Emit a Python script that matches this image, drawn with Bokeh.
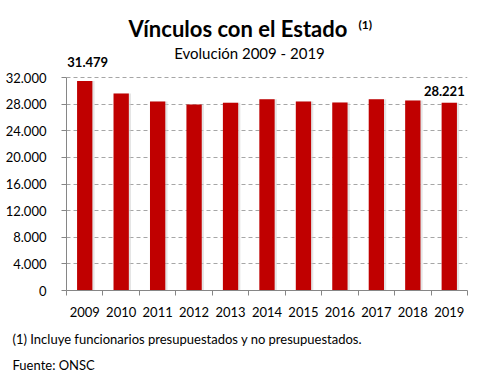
from bokeh.plotting import figure
from bokeh.layouts import column
from bokeh.models import Range1d, FixedTicker, Label, ColumnDataSource
from bokeh.embed import file_html
from bokeh.resources import INLINE

years = ["2009", "2010", "2011", "2012", "2013", "2014", "2015", "2016", "2017", "2018", "2019"]
vinculos = [31479, 29600, 28400, 27950, 28200, 28750, 28400, 28250, 28750, 28550, 28221]
y_ticks = [0, 4000, 8000, 12000, 16000, 20000, 24000, 28000, 32000]
y_tick_labels = ["0", "4.000", "8.000", "12.000", "16.000", "20.000", "24.000", "28.000", "32.000"]
title_text = "Vínculos con el Estado"
title_sup = "(1)"
subtitle_text = "Evolución 2009 - 2019"
footnote_text = "(1) Incluye funcionarios presupuestados y no presupuestados."
source_text = "Fuente: ONSC"
labelled_years = ["2009", "2019"]
labelled_texts = ["31.479", "28.221"]

FONT = "Lato"
W = 477
idx = list(range(len(years)))
y_max = y_ticks[-1]

# layout geometry (pixels)
LEFT, RIGHT = 66, 10
PLOT_H = 213          # pixels between 0 and y_max
FRAME_H = 290         # frame spans from top of canvas down to the x axis
BOTTOM = 35
y_top = y_max * FRAME_H / PLOT_H

p = figure(width=W, height=FRAME_H + BOTTOM, output_backend="svg", toolbar_location=None,
           x_range=Range1d(-0.5, len(years) - 0.5), y_range=Range1d(0, y_top),
           min_border_left=LEFT, min_border_right=RIGHT, min_border_top=0, min_border_bottom=BOTTOM)
p.frame_align = False
p.outline_line_color = None
p.background_fill_color = "white"
p.border_fill_color = "white"

src = ColumnDataSource(dict(x=idx, top=vinculos, xs=[i + 0.035 for i in idx]))
p.vbar(x="xs", top="top", width=0.47, source=src, fill_color="#d0d0d0", fill_alpha=0.55, line_color=None)
p.vbar(x="x", top="top", width=0.42, source=src, fill_color="#C00000", line_color=None)

# axes
p.xaxis.ticker = FixedTicker(ticks=idx, minor_ticks=[i - 0.5 for i in idx] + [len(years) - 0.5])
p.xaxis.major_label_overrides = {i: y for i, y in zip(idx, years)}
p.xaxis.major_tick_line_color = None
p.xaxis.major_tick_out = 0
p.xaxis.major_tick_in = 0
p.xaxis.minor_tick_out = 5
p.xaxis.minor_tick_in = 0
p.xaxis.minor_tick_line_color = "#868686"
p.xaxis.axis_line_color = "#868686"
p.xaxis.major_label_standoff = 11
p.xaxis.major_label_text_font = FONT
p.xaxis.major_label_text_font_size = "13px"
p.xaxis.major_label_text_color = "#000000"

p.yaxis.ticker = FixedTicker(ticks=y_ticks)
p.yaxis.bounds = (0, y_max)
p.yaxis.major_label_overrides = {t: l for t, l in zip(y_ticks, y_tick_labels)}
p.yaxis.minor_tick_line_color = None
p.yaxis.major_tick_out = 5
p.yaxis.major_tick_in = 0
p.yaxis.major_tick_line_color = "#868686"
p.yaxis.axis_line_color = "#868686"
p.yaxis.major_label_standoff = 15
p.yaxis.major_label_text_font = FONT
p.yaxis.major_label_text_font_size = "13px"
p.yaxis.major_label_text_color = "#000000"

p.xgrid.grid_line_color = None
p.ygrid.grid_line_color = "#a6a6a6"
p.ygrid.grid_line_dash = "4 3"
p.ygrid.grid_line_width = 1

# value labels
offsets = [(3, 19), (-5, 12)]
for y, txt, (dx, dy) in zip(labelled_years, labelled_texts, offsets):
    i = years.index(y)
    p.add_layout(Label(x=i, y=vinculos[i], text=txt, x_offset=dx, y_offset=dy,
                       text_align="center", text_baseline="middle",
                       text_font=FONT, text_font_style="bold", text_font_size="13px",
                       text_color="#000000"))

def add_text(fig, x, y, txt, size, style="normal", align="left"):
    fig.add_layout(Label(x=x, y=y, x_units="screen", y_units="screen", text=txt,
                         text_align=align, text_baseline="middle", text_font=FONT,
                         text_font_style=style, text_font_size=size, text_color="#000000"))

# titles (screen units relative to frame: left=66, bottom=290)
add_text(p, 171.5, 262.3, title_text, "22px", "bold", "center")
add_text(p, 292, 266, title_sup, "12px", "bold", "left")
add_text(p, 183, 237.3, subtitle_text, "15px", "normal", "center")

# footer
FOOT_H = 385 - 8 - (FRAME_H + BOTTOM)
f = figure(width=W, height=FOOT_H, output_backend="svg", toolbar_location=None,
           x_range=Range1d(0, W), y_range=Range1d(0, FOOT_H),
           min_border=0, x_axis_location=None, y_axis_location=None)
f.frame_align = False
f.outline_line_color = None
f.xgrid.grid_line_color = None
f.ygrid.grid_line_color = None
top_of_footer = FRAME_H + BOTTOM
add_text(f, 12, FOOT_H - (338.5 - top_of_footer), footnote_text, "13px")
add_text(f, 12, FOOT_H - (364.5 - top_of_footer), source_text, "13px")

layout = column(p, f, spacing=0)
open("out.html", "w").write(file_html(layout, INLINE))
